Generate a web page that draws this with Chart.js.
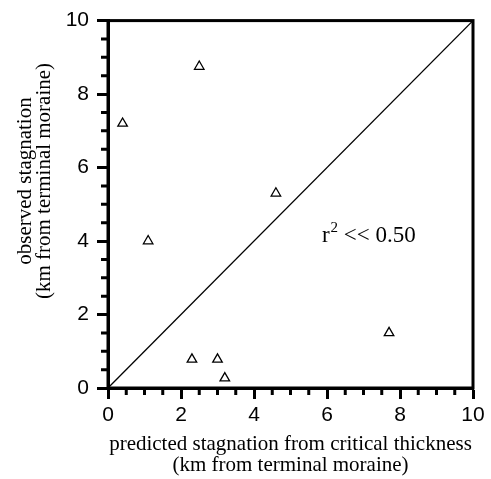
<!DOCTYPE html>
<html>
<head>
<meta charset="utf-8">
<script src="https://cdn.jsdelivr.net/npm/chart.js@4.4.0/dist/chart.umd.min.js"></script>
<style>
    html, body { margin: 0; padding: 0; background: #fff; }
    #wrap { width: 491px; height: 479px; }
</style>
</head>
<body>
<div id="wrap"><canvas id="stagChart" width="491" height="479"></canvas></div>
<script>
// observed vs predicted stagnation (km from terminal moraine)
const predicted = [0.4, 2.5, 1.1, 4.6, 2.3, 3.0, 3.2, 7.7];
const observed = [7.2, 8.75, 4.0, 5.3, 0.78, 0.78, 0.27, 1.5];
const lineX = [0, 10];
const lineY = [0, 10];
const majorTicks = [0, 2, 4, 6, 8, 10];

const xTitle = ['predicted stagnation from critical thickness', '(km from terminal moraine)'];
const yTitle = ['observed stagnation', '(km from terminal moraine)'];

const serif = '"Liberation Serif", "Times New Roman", serif';
const sans = '"Liberation Sans", Arial, sans-serif';

// minor ticks + frame + titles + r^2 note
const extras = {
    id: 'extras',
    afterDraw(chart) {
        const ctx = chart.ctx;
        const xs = chart.scales.x, ys = chart.scales.y;
        const a = chart.chartArea;
        ctx.save();
        ctx.strokeStyle = '#000';
        ctx.lineWidth = 3;
        // minor ticks every 0.5
        ctx.beginPath();
        for (let v = 0; v <= 10; v += 0.5) {
            if (majorTicks.includes(v)) continue;
            const px = xs.getPixelForValue(v);
            ctx.moveTo(px, a.bottom);
            ctx.lineTo(px, a.bottom + 7);
            const py = ys.getPixelForValue(v);
            ctx.moveTo(a.left, py);
            ctx.lineTo(a.left - 7, py);
        }
        ctx.stroke();
        // frame
        ctx.strokeRect(a.left, a.top, a.right - a.left, a.bottom - a.top);

        ctx.fillStyle = '#000';
        ctx.font = '21px ' + serif;
        ctx.textAlign = 'center';
        ctx.textBaseline = 'alphabetic';
        const cx = (a.left + a.right) / 2;
        ctx.fillText(xTitle[0], cx, 450);
        ctx.fillText(xTitle[1], cx, 471);

        ctx.save();
        ctx.translate(31, 181);
        ctx.rotate(-Math.PI / 2);
        ctx.fillText(yTitle[0], 0, 0);
        ctx.fillText(yTitle[1], 0, 19);
        ctx.restore();

        // r^2 << 0.50
        const tx = xs.getPixelForValue(5.86);
        const ty = ys.getPixelForValue(3.98);
        ctx.textAlign = 'left';
        ctx.font = '23px ' + serif;
        ctx.fillText('r', tx, ty);
        let w = ctx.measureText('r').width;
        ctx.font = '15px ' + serif;
        ctx.fillText('2', tx + w + 1, ty - 10);
        w += ctx.measureText('2').width + 1;
        ctx.font = '23px ' + serif;
        ctx.fillText(' << 0.50', tx + w, ty);
        ctx.restore();
    }
};

const ctx = document.getElementById('stagChart').getContext('2d');
const stagChart = new Chart(ctx, {
    type: 'scatter',
    data: {
        datasets: [
            {
                label: 'glaciers',
                data: predicted.map((x, i) => ({ x: x, y: observed[i] })),
                pointStyle: 'triangle',
                radius: 5.5,
                borderColor: '#000',
                backgroundColor: 'rgba(255,255,255,0)',
                borderWidth: 1.3
            },
            {
                type: 'line',
                label: '1:1',
                data: lineX.map((x, i) => ({ x: x, y: lineY[i] })),
                borderColor: '#000',
                borderWidth: 1.3,
                pointRadius: 0,
                fill: false
            }
        ]
    },
    plugins: [extras],
    options: {
        responsive: false,
        animation: false,
        layout: { padding: { left: 0, top: 16, right: 18, bottom: 0 } },
        plugins: { legend: { display: false }, tooltip: { enabled: false } },
        scales: {
            x: {
                type: 'linear', min: 0, max: 10,
                afterFit: s => { s.height = 91; },
                afterBuildTicks: s => { s.ticks = majorTicks.map(v => ({ value: v })); },
                border: { display: true, color: '#000', width: 3 },
                grid: { drawOnChartArea: false, drawTicks: true, tickLength: 11, tickWidth: 3, tickColor: '#000' },
                ticks: { color: '#000', font: { family: sans, size: 21 }, padding: 4, maxRotation: 0 }
            },
            y: {
                type: 'linear', min: 0, max: 10,
                afterFit: s => { s.width = 108; },
                afterBuildTicks: s => { s.ticks = majorTicks.map(v => ({ value: v })); },
                border: { display: true, color: '#000', width: 3 },
                grid: { drawOnChartArea: false, drawTicks: true, tickLength: 11, tickWidth: 3, tickColor: '#000' },
                ticks: { color: '#000', font: { family: sans, size: 21 }, padding: 8 }
            }
        }
    }
});
</script>
</body>
</html>
